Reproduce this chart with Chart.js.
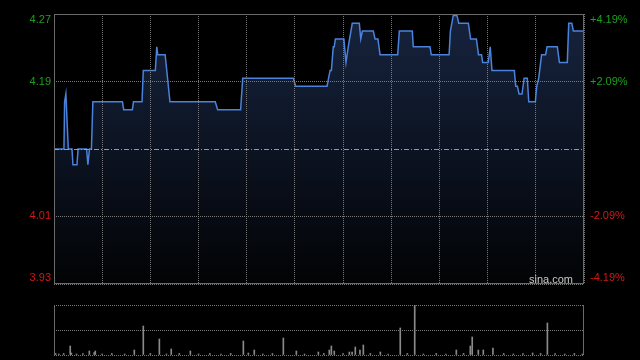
<!DOCTYPE html>
<html>
<head>
<meta charset="utf-8">
<script src="https://cdn.jsdelivr.net/npm/chart.js@4/dist/chart.umd.min.js"></script>
<style>
  html, body { margin: 0; padding: 0; background: #000; }
  #wrap { position: relative; width: 640px; height: 360px; overflow: hidden; }
  #price { position: absolute; left: 0; top: 0; }
  #volume { position: absolute; left: 0; top: 295px; }
</style>
</head>
<body>
<div id="wrap">
  <canvas id="price" width="640" height="290"></canvas>
  <canvas id="volume" width="640" height="65"></canvas>
</div>
<script>
// minutes since open (9:30 .. 16:00, lunch removed -> 330 min)
const times = [0, 6.2, 6.6, 7.4, 8.9, 11.2, 11.8, 14.3, 15, 20.3, 21.1, 22.1, 23.3, 24.2,
  42.6, 43.4, 48.8, 49.5, 54.8, 55.6, 63.1, 64.0, 64.6, 69.2, 72.2,
  100.4, 101.9, 116.2, 117.5, 149, 150.5, 170, 171.9, 172.7, 173.9, 174.5, 175.2, 180.5,
  181.8, 183.2, 185.7, 190.1, 191, 192, 198.8, 199.9, 201.7, 203, 214, 215, 223.1, 223.7,
  234.1, 234.9, 246, 246.8, 248.6, 250.9, 252, 258, 259.4, 263, 264.3, 266.2, 266.9, 270.4,
  271.6, 272.7, 286.6, 287.5, 288.5, 289.6, 291.4, 292.7, 294.7, 295.6, 299.7, 300.6, 301.8,
  303.6, 306.1, 307, 313.4, 314.7, 319.6, 320.5, 322.4, 323.4, 330];
const prices = [4.10, 4.10, 4.16, 4.17, 4.10, 4.10, 4.08, 4.08, 4.10, 4.10, 4.08, 4.10, 4.10, 4.16,
  4.16, 4.15, 4.15, 4.16, 4.16, 4.20, 4.20, 4.23, 4.22, 4.22, 4.16,
  4.16, 4.15, 4.15, 4.19, 4.19, 4.18, 4.18, 4.20, 4.20, 4.23, 4.23, 4.24, 4.24,
  4.21, 4.23, 4.26, 4.26, 4.24, 4.25, 4.25, 4.24, 4.24, 4.22, 4.22, 4.25, 4.25, 4.23,
  4.23, 4.22, 4.22, 4.25, 4.27, 4.27, 4.26, 4.26, 4.24, 4.24, 4.22, 4.22, 4.21, 4.21,
  4.23, 4.20, 4.20, 4.18, 4.18, 4.17, 4.17, 4.19, 4.19, 4.16, 4.16, 4.18, 4.19,
  4.22, 4.22, 4.23, 4.23, 4.21, 4.21, 4.26, 4.26, 4.25, 4.25];

const prevClose = 4.10;
const pctLevels = [4.19, 2.09, -2.09, -4.19];
const priceLabels = ['4.27', '4.19', '4.01', '3.93'];
const pctLabels = ['+4.19%', '+2.09%', '-2.09%', '-4.19%'];

// volume, relative units (100 = panel top)
const volTimes = [1, 3, 6, 10.1, 10.8, 14, 18, 22, 25, 25.7, 30, 36, 44, 50, 55.6, 60, 65.6, 70, 73,
  78, 84.9, 90, 97, 104, 110, 117.9, 121, 124.7, 130, 136, 142.8, 150.9, 156, 164.6, 168,
  171.4, 172.7, 174.5, 180, 183.9, 185.6, 187.6, 190.5, 192.6, 197, 203.2, 208, 215.6, 220,
  224.6, 230, 238, 244, 250.5, 255, 259.2, 260.4, 264.2, 267.3, 273.3, 280, 286, 292, 298,
  303, 307.2, 312, 318, 324, 329];
const volumes = [3, 2, 3, 18, 4, 2, 3, 8, 5, 8, 2, 3, 2, 10, 58, 3, 32, 2, 12,
  3, 8, 2, 3, 2, 3, 28, 4, 10, 2, 3, 34, 8, 2, 6, 3,
  10, 18, 8, 3, 6, 6, 16, 10, 20, 3, 6, 2, 54, 3,
  100, 2, 3, 2, 10, 3, 18, 36, 10, 10, 14, 3, 2, 3, 4,
  3, 64, 3, 2, 3, 2];

const gridColor = 'rgba(140,140,140,0.85)';
const frameColor = '#6a6a6a';
const up = '#1ca01c', down = '#d01818';

const yMax = prevClose * (1 + pctLevels[0] / 100);
const yMin = prevClose * (1 + pctLevels[3] / 100);

const priceDecor = {
  id: 'priceDecor',
  afterDraw(chart) {
    const { ctx, chartArea: a, scales: { y } } = chart;
    ctx.save();
    // previous close, dash-dot
    const py0 = Math.round(y.getPixelForValue(prevClose)) + 0.5;
    ctx.strokeStyle = 'rgba(170,170,170,0.9)';
    ctx.lineWidth = 1;
    ctx.setLineDash([5, 2, 1, 2]);
    ctx.beginPath();
    ctx.moveTo(a.left, py0);
    ctx.lineTo(a.right, py0);
    ctx.stroke();
    ctx.setLineDash([]);
    ctx.strokeStyle = frameColor;
    ctx.strokeRect(a.left + 0.5, a.top + 0.5, a.right - a.left - 1, a.bottom - a.top - 1);
    ctx.font = '11px "Liberation Sans", Arial, sans-serif';
    ctx.textBaseline = 'middle';
    pctLevels.forEach((p, i) => {
      let py = y.getPixelForValue(prevClose * (1 + p / 100));
      py = Math.min(Math.max(py, a.top + 6), a.bottom - 6);
      ctx.fillStyle = p > 0 ? up : down;
      ctx.textAlign = 'right';
      ctx.fillText(priceLabels[i], a.left - 3, py);
      ctx.textAlign = 'left';
      ctx.fillText(pctLabels[i], a.right + 6, py);
    });
    ctx.fillStyle = '#c8c8c8';
    ctx.textAlign = 'right';
    ctx.textBaseline = 'alphabetic';
    ctx.fillText('sina.com', a.right - 11, a.bottom - 1);
    ctx.restore();
  }
};

new Chart(document.getElementById('price'), {
  type: 'line',
  data: {
    datasets: [{
      data: times.map((t, i) => ({ x: t, y: prices[i] })),
      borderColor: '#4a82dc',
      borderWidth: 1.5,
      pointRadius: 0,
      tension: 0,
      fill: 'start',
      backgroundColor: (c) => {
        const { chart } = c;
        const a = chart.chartArea;
        if (!a) return 'rgba(20,32,56,0.9)';
        const g = chart.ctx.createLinearGradient(0, a.top, 0, a.bottom);
        g.addColorStop(0, '#17243e');
        g.addColorStop(0.5, '#0c1322');
        g.addColorStop(1, '#020304');
        return g;
      }
    }]
  },
  options: {
    responsive: false,
    animation: false,
    devicePixelRatio: 1,
    layout: { padding: { left: 54, right: 56, top: 14, bottom: 6 } },
    plugins: { legend: { display: false }, tooltip: { enabled: false } },
    scales: {
      x: {
        type: 'linear', min: 0, max: 330, z: 1,
        ticks: { display: false, stepSize: 30 },
        grid: { color: gridColor, drawTicks: false, z: 1 },
        border: { display: false, dash: [1, 1] },
        afterFit: (s) => { s.height = 0; }
      },
      y: {
        min: yMin, max: yMax, z: 1,
        afterBuildTicks: (s) => {
          s.ticks = [yMin, prevClose * (1 + pctLevels[2] / 100), prevClose,
            prevClose * (1 + pctLevels[1] / 100), yMax].map(v => ({ value: v }));
        },
        ticks: { display: false },
        grid: {
          color: (c) => c.index === 2 ? 'transparent' : gridColor,
          drawTicks: false,
          z: 1
        },
        border: { display: false, dash: [1, 1] },
        afterFit: (s) => { s.width = 0; }
      }
    }
  },
  plugins: [priceDecor]
});

const volDecor = {
  id: 'volDecor',
  afterDraw(chart) {
    const { ctx, chartArea: a } = chart;
    ctx.save();
    ctx.strokeStyle = frameColor;
    ctx.lineWidth = 1;
    ctx.beginPath();
    ctx.moveTo(a.left + 0.5, a.top);
    ctx.lineTo(a.left + 0.5, a.bottom);
    ctx.moveTo(a.right - 0.5, a.top);
    ctx.lineTo(a.right - 0.5, a.bottom);
    ctx.stroke();
    ctx.restore();
  }
};

new Chart(document.getElementById('volume'), {
  type: 'bar',
  data: {
    datasets: [{
      data: volTimes.map((t, i) => ({ x: t, y: volumes[i] })),
      backgroundColor: '#8a8a8a',
      barThickness: 1,
      borderWidth: 0
    }]
  },
  options: {
    responsive: false,
    animation: false,
    devicePixelRatio: 1,
    layout: { padding: { left: 54, right: 56, top: 10, bottom: 5 } },
    plugins: { legend: { display: false }, tooltip: { enabled: false } },
    scales: {
      x: {
        type: 'linear', min: 0, max: 330, offset: false,
        ticks: { display: false },
        grid: { display: false },
        border: { display: false },
        afterFit: (s) => { s.height = 0; }
      },
      y: {
        min: 0, max: 100,
        ticks: { display: false, stepSize: 50 },
        grid: { color: gridColor, drawTicks: false },
        border: { display: false, dash: [1, 1] },
        afterFit: (s) => { s.width = 0; }
      }
    }
  },
  plugins: [volDecor]
});
</script>
</body>
</html>
